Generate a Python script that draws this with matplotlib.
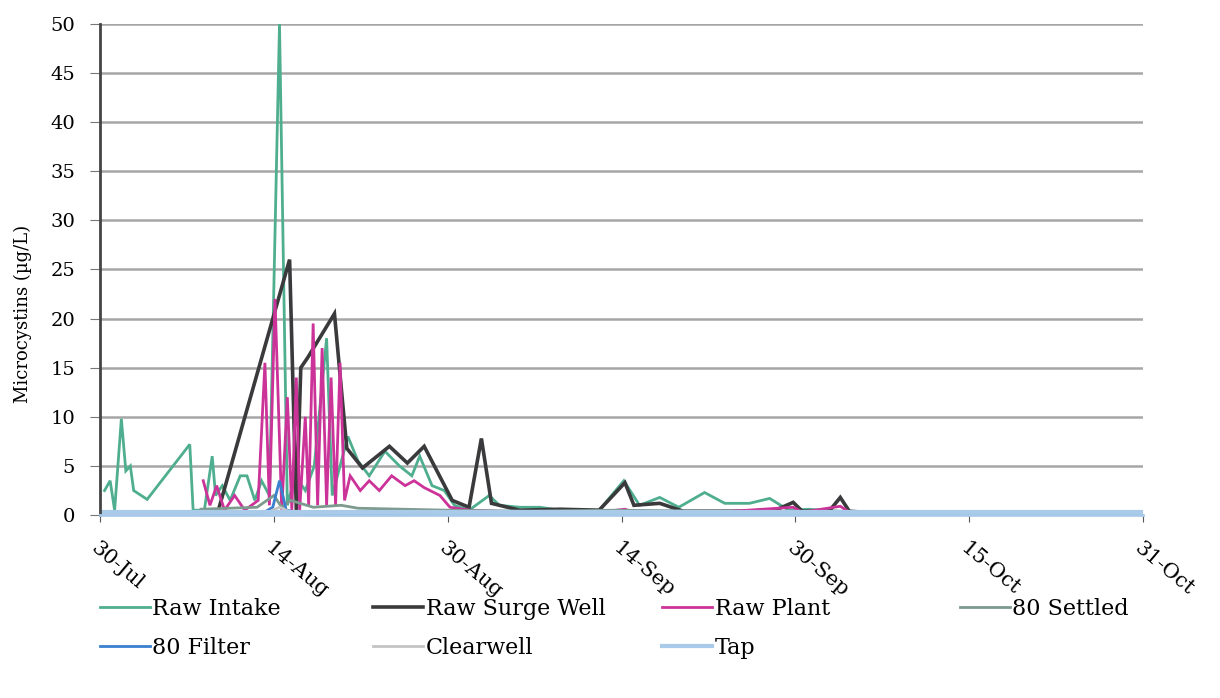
import matplotlib
matplotlib.use("Agg")
import matplotlib.pyplot as plt
import numpy as np

# Sampling day counted from 30-Jul, microcystin concentration in ug/L
intake_day = [0.4, 0.9, 1.3, 1.9, 2.3, 2.7, 3.0, 4.2, 8.0, 8.3, 9.3, 10.0, 10.3, 10.9,
              11.6, 12.5, 13.1, 13.8, 14.4, 15.1, 16.0, 16.7, 17.4, 18.3, 19.1, 20.2,
              20.7, 21.4, 22.1, 23.0, 24.0, 25.4, 26.7, 27.8, 28.5, 29.6, 30.7, 31.6,
              32.9, 34.7, 35.6, 37.4, 39.2, 41.0, 44.5, 46.7, 48.1, 49.9, 51.6, 53.9,
              55.7, 57.9, 59.7, 61.4, 63.2, 65.9, 68.6, 75.0, 85.0, 93.0]
intake_val = [2.5, 3.5, 0.5, 9.8, 4.5, 5.0, 2.5, 1.6, 7.2, 0.5, 0.5, 6.0, 2.0, 3.0,
              1.5, 4.0, 4.0, 1.5, 3.5, 2.0, 50.0, 1.0, 4.0, 2.5, 5.0, 18.0,
              2.0, 5.0, 8.0, 5.5, 4.0, 6.5, 5.0, 4.0, 6.0, 3.0, 2.5, 1.0,
              0.5, 2.0, 1.0, 0.8, 0.8, 0.5, 0.5, 3.5, 1.0, 1.8, 0.8, 2.3,
              1.2, 1.2, 1.7, 0.5, 0.6, 0.4, 0.3, 0.3, 0.3, 0.3]

surge_day = [10.6, 16.9, 17.5, 17.9, 18.5, 20.9, 22.0, 23.4, 25.8, 27.4, 28.9, 31.4,
             32.9, 34.0, 34.9, 37.4, 41.0, 44.5, 46.8, 47.6, 49.9, 52.0, 56.0, 60.0,
             61.8, 62.6, 65.0, 66.0, 66.8, 68.0, 75.0, 85.0, 93.0]
surge_val = [0.7, 26.0, 0.5, 15.0, 16.0, 20.5, 6.8, 4.8, 7.0, 5.3, 7.0, 1.5,
             0.8, 7.8, 1.2, 0.5, 0.6, 0.5, 3.3, 1.0, 1.2, 0.4, 0.4, 0.4,
             1.3, 0.4, 0.4, 1.8, 0.4, 0.3, 0.2, 0.2, 0.2]

plant_day = [9.2, 9.8, 10.4, 11.1, 12.0, 12.9, 14.1, 14.7, 15.1, 15.6, 16.2, 16.7,
             17.1, 17.5, 17.8, 18.3, 18.6, 19.0, 19.4, 19.8, 20.2, 20.6, 21.0, 21.4,
             21.8, 22.3, 23.2, 24.0, 24.9, 26.0, 27.2, 28.0, 28.9, 30.3, 31.2, 33.0,
             37.4, 44.5, 46.8, 47.6, 55.0, 61.8, 62.6, 66.0, 66.8, 75.0, 85.0, 93.0]
plant_val = [3.5, 1.0, 3.0, 0.5, 2.0, 0.5, 1.5, 15.5, 1.0, 22.0, 0.5, 12.0,
             0.5, 14.0, 0.5, 10.0, 1.0, 19.5, 1.0, 17.0, 1.0, 14.0, 1.0, 15.5,
             1.5, 4.0, 2.5, 3.5, 2.5, 4.0, 3.0, 3.5, 2.8, 2.0, 0.8, 0.5,
             0.3, 0.3, 0.6, 0.3, 0.3, 0.8, 0.3, 0.9, 0.3, 0.2, 0.2, 0.2]

settled_day = [9.0, 14.0, 15.5, 16.2, 17.0, 19.0, 21.5, 23.0, 27.0, 31.0, 38.0, 46.0,
               55.0, 65.0, 75.0, 85.0, 93.0]
settled_val = [0.6, 0.8, 2.0, 0.8, 1.5, 0.8, 1.0, 0.7, 0.6, 0.5, 0.4, 0.5,
               0.4, 0.3, 0.3, 0.3, 0.3]

filter_day = [9.0, 14.5, 15.4, 16.0, 16.6, 18.0, 25.0, 40.0, 60.0, 93.0]
filter_val = [0.1, 0.2, 0.8, 3.5, 0.5, 0.2, 0.15, 0.1, 0.1, 0.1]

clear_day = [0.0, 15.0, 16.0, 17.0, 30.0, 60.0, 93.0]
clear_val = [0.2, 0.3, 0.8, 0.3, 0.2, 0.2, 0.2]

tap_day = [0.0, 20.0, 40.0, 60.0, 80.0, 93.0]
tap_val = [0.3, 0.3, 0.3, 0.3, 0.3, 0.3]

tick_labels = ["30-Jul", "14-Aug", "30-Aug", "14-Sep", "30-Sep", "15-Oct", "31-Oct"]

plt.rcParams["font.family"] = ["DejaVu Serif"]

fig = plt.figure(figsize=(12.2, 6.98), dpi=100)
ax = fig.add_axes([0.082, 0.262, 0.855, 0.704])

series = [
    ("Raw Intake", intake_day, intake_val, "#4fae8f", 2.0),
    ("Raw Surge Well", surge_day, surge_val, "#3a3a3c", 2.6),
    ("Raw Plant", plant_day, plant_val, "#cc3399", 2.0),
    ("80 Settled", settled_day, settled_val, "#7d9a8e", 2.0),
    ("80 Filter", filter_day, filter_val, "#3b7fcf", 2.0),
    ("Clearwell", clear_day, clear_val, "#c4c4c4", 2.0),
    ("Tap", tap_day, tap_val, "#a9cbe9", 3.0),
]
handles = {}
for name, d, v, c, lw in series:
    h, = ax.plot(d, v, color=c, lw=lw, label=name, solid_joinstyle="miter")
    handles[name] = h

ax.set_xlim(0, 93)
ax.set_ylim(0, 50)
ax.set_yticks(np.arange(0, 51, 5))
ax.set_xticks(np.linspace(0, 93, len(tick_labels)))
ax.set_xticklabels(tick_labels, rotation=-40, ha="left", va="top",
                   rotation_mode="anchor", fontsize=15)
ax.tick_params(axis="y", labelsize=14, length=7, color="#777777", pad=11)
ax.tick_params(axis="x", length=5, color="#555555", pad=12)
ax.grid(axis="y", color="#a6a6a6", lw=1.8)
ax.set_axisbelow(True)
for s in ["top", "right"]:
    ax.spines[s].set_visible(False)
ax.spines["left"].set_color("#444444")
ax.spines["left"].set_linewidth(2)
ax.spines["bottom"].set_color("#a9cbe9")
ax.spines["bottom"].set_linewidth(2)
ax.set_ylabel("Microcystins (\u00b5g/L)", fontsize=13)
ax.yaxis.set_label_coords(-0.065, 0.41)

# legend reads row by row, one small legend per column
legend_cols = [["Raw Intake", "80 Filter"], ["Raw Surge Well", "Clearwell"],
               ["Raw Plant", "Tap"], ["80 Settled"]]
col_x = [0.082, 0.306, 0.543, 0.787]
for names, x0 in zip(legend_cols, col_x):
    fig.legend([handles[k] for k in names], names, frameon=False,
               loc="upper left", bbox_to_anchor=(x0, 0.143), borderpad=0,
               borderaxespad=0, fontsize=16, handlelength=2.25,
               handletextpad=0.1, labelspacing=0.75)

fig.savefig("out.png", dpi=100)
